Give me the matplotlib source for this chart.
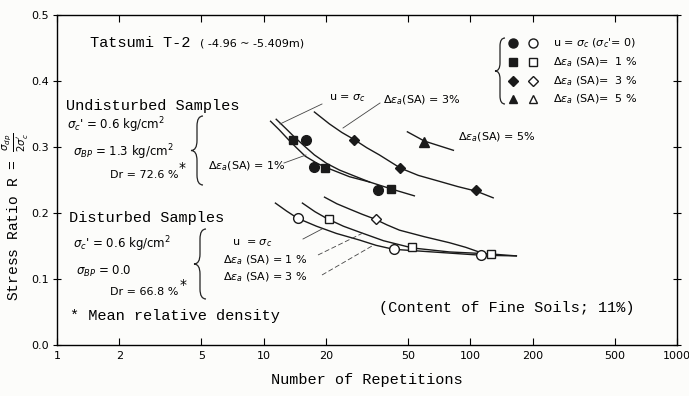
import numpy as np
import matplotlib
matplotlib.use("Agg")
import matplotlib.pyplot as plt
from matplotlib.path import Path
from matplotlib.patches import PathPatch
from matplotlib.lines import Line2D

plt.rcParams["mathtext.fontset"] = "dejavusans"

W, H = 689, 396
MONO = "Liberation Mono"

# undisturbed samples (filled markers)
und_circle_n = [16.1, 17.6, 35.9]
und_circle_r = [0.310, 0.270, 0.235]
und_square_n = [13.8, 19.9, 41.5]
und_square_r = [0.310, 0.268, 0.236]
und_diamond_n = [27.5, 45.9, 107]
und_diamond_r = [0.310, 0.268, 0.235]
und_triangle_n = [59.9]
und_triangle_r = [0.308]

# disturbed samples (open markers)
dis_circle_n = [14.6, 42.9, 113]
dis_circle_r = [0.192, 0.145, 0.136]
dis_square_n = [20.6, 52.5, 126]
dis_square_r = [0.191, 0.148, 0.138]
dis_diamond_n = [34.8]
dis_diamond_r = [0.191]

# hand-drawn curves
und_u_n = [11.5, 12.8, 14.1, 15.8, 17.6, 20.2, 23.3, 27.5, 32.5, 42.9, 53.6]
und_u_r = [0.342, 0.328, 0.315, 0.301, 0.288, 0.275, 0.265, 0.256, 0.247, 0.235, 0.226]
und_1_n = [10.8, 11.9, 13.1, 14.4, 15.9, 18.2, 20.8, 26.0, 32.5]
und_1_r = [0.339, 0.326, 0.312, 0.299, 0.286, 0.275, 0.267, 0.255, 0.247]
und_3_n = [17.6, 20.8, 23.9, 27.5, 31.5, 36.3, 45.9, 56.0, 70.8, 87.0, 107, 129]
und_3_r = [0.353, 0.335, 0.322, 0.311, 0.299, 0.288, 0.268, 0.257, 0.248, 0.240, 0.233, 0.223]
und_5_n = [49.6, 59.9, 82.8]
und_5_r = [0.323, 0.309, 0.295]
dis_u_n = [11.4, 12.9, 14.6, 18.0, 22.5, 29.1, 35.0, 42.5, 65.5, 113, 167]
dis_u_r = [0.215, 0.203, 0.192, 0.180, 0.169, 0.159, 0.151, 0.145, 0.141, 0.136, 0.135]
dis_1_n = [15.4, 17.7, 20.4, 24.3, 29.1, 38.0, 52.5, 79.2, 125, 167]
dis_1_r = [0.215, 0.202, 0.191, 0.180, 0.171, 0.158, 0.147, 0.141, 0.138, 0.135]
dis_3_n = [19.7, 22.6, 26.0, 30.0, 34.4, 39.5, 45.4, 60.0, 79.2, 95.0, 110]
dis_3_r = [0.224, 0.214, 0.206, 0.198, 0.191, 0.182, 0.174, 0.164, 0.155, 0.148, 0.141]

x_ticks = [1, 2, 5, 10, 20, 50, 100, 200, 500, 1000]
y_ticks = [0.0, 0.1, 0.2, 0.3, 0.4, 0.5]


def fx(x, y):
    return x / W, 1 - y / H


def ftext(fig, x, y, s, **kw):
    kw.setdefault("va", "center")
    kw.setdefault("ha", "left")
    fig.text(x / W, 1 - y / H, s, **kw)


def brace(fig, x, y0, y1, w=6, r=10):
    ym = (y0 + y1) / 2
    pts = [(x + w, y0), (x, y0), (x, y0 + r), (x, ym - r), (x, ym), (x - w, ym),
           (x, ym), (x, ym + r), (x, y1 - r), (x, y1), (x + w, y1)]
    codes = [Path.MOVETO, Path.CURVE3, Path.CURVE3, Path.LINETO, Path.CURVE3, Path.CURVE3,
             Path.CURVE3, Path.CURVE3, Path.LINETO, Path.CURVE3, Path.CURVE3]
    path = Path([fx(*p) for p in pts], codes)
    fig.patches.append(PathPatch(path, fc="none", ec="#222", lw=0.9,
                                 transform=fig.transFigure))


def leader(fig, p0, p1, ls="-"):
    fig.add_artist(Line2D([p0[0] / W, p1[0] / W], [1 - p0[1] / H, 1 - p1[1] / H],
                          transform=fig.transFigure, color="#444", lw=0.6, ls=ls))


fig = plt.figure(figsize=(W / 100, H / 100), dpi=100, facecolor="#fcfcfa")
ax = fig.add_axes([57 / W, 1 - 345 / H, 620 / W, 330 / H])
ax.set_facecolor("#fcfcfa")

ln = dict(color="#1a1a1a", lw=1.0)
for n, r in [(und_u_n, und_u_r), (und_1_n, und_1_r), (und_3_n, und_3_r),
             (und_5_n, und_5_r), (dis_u_n, dis_u_r), (dis_1_n, dis_1_r),
             (dis_3_n, dis_3_r)]:
    ax.plot(n, r, **ln)

mk = dict(ls="none", color="#1a1a1a", zorder=3)
ax.plot(und_circle_n, und_circle_r, marker="o", ms=7, **mk)
ax.plot(und_square_n, und_square_r, marker="s", ms=6, **mk)
ax.plot(und_diamond_n, und_diamond_r, marker="D", ms=5.5, **mk)
ax.plot(und_triangle_n, und_triangle_r, marker="^", ms=6.5, **mk)
op = dict(ls="none", mfc="white", mec="#1a1a1a", mew=1.0, zorder=3)
ax.plot(dis_circle_n, dis_circle_r, marker="o", ms=7, **op)
ax.plot(dis_square_n, dis_square_r, marker="s", ms=5.5, **op)
ax.plot(dis_diamond_n, dis_diamond_r, marker="D", ms=5.5, **op)

ax.set_xscale("log")
ax.set_xlim(1, 1000)
ax.set_ylim(0, 0.5)
ax.set_xticks(x_ticks)
ax.set_xticklabels([str(t) for t in x_ticks], fontsize=8)
ax.xaxis.set_minor_locator(matplotlib.ticker.NullLocator())
ax.set_yticks(y_ticks)
ax.set_yticklabels(["%.1f" % t for t in y_ticks], fontsize=8)
ax.tick_params(axis="x", direction="in", top=True, length=5, pad=4)
ax.tick_params(axis="y", direction="inout", right=True, length=6, pad=3)
for s in ax.spines.values():
    s.set_linewidth(1.0)

ax.set_xlabel("Number of Repetitions", family=MONO, fontsize=11, labelpad=9)
ax.set_ylabel(r"Stress Ratio R = $\frac{\sigma_{dp}}{2\sigma_c'}$", family=MONO,
              fontsize=10.5)
ax.yaxis.set_label_coords(-0.042, 0.39)

# titles and annotations
ftext(fig, 90, 43, "Tatsumi T-2", family=MONO, fontsize=11)
ftext(fig, 200, 43, "( -4.96 ~ -5.409m)", fontsize=8)

ftext(fig, 66, 106, "Undisturbed Samples", family=MONO, fontsize=11)
ftext(fig, 67, 125, r"$\sigma_c$' = 0.6 kg/cm$^2$", fontsize=8.5)
ftext(fig, 73, 152, r"$\sigma_{BP}$ = 1.3 kg/cm$^2$", fontsize=8.5)
ftext(fig, 110, 175, "Dr = 72.6 %", fontsize=8)
ftext(fig, 179, 168, "*", fontsize=10)
brace(fig, 197, 116, 185)

ftext(fig, 69, 218, "Disturbed Samples", family=MONO, fontsize=11)
ftext(fig, 73, 244, r"$\sigma_c$' = 0.6 kg/cm$^2$", fontsize=8.5)
ftext(fig, 76, 271, r"$\sigma_{BP}$ = 0.0", fontsize=8.5)
ftext(fig, 110, 292, "Dr = 66.8 %", fontsize=8)
ftext(fig, 180, 285, "*", fontsize=10)
brace(fig, 200, 229, 299)
ftext(fig, 70, 316, "* Mean relative density", family=MONO, fontsize=11)

ftext(fig, 232, 243, r"u  = $\sigma_c$", fontsize=8)
ftext(fig, 223, 260, r"$\Delta\epsilon_a$ (SA) = 1 %", fontsize=8)
ftext(fig, 223, 277, r"$\Delta\epsilon_a$ (SA) = 3 %", fontsize=8)
leader(fig, (303, 239), (322, 229))
leader(fig, (318, 255), (365, 232), ls=(0, (6, 3)))
leader(fig, (322, 275), (372, 246), ls=(0, (6, 3)))

ftext(fig, 208, 166, r"$\Delta\epsilon_a$(SA) = 1%", fontsize=8)
leader(fig, (284, 163), (306, 155))
ftext(fig, 329, 98, r"u = $\sigma_c$", fontsize=8)
leader(fig, (322, 104), (280, 124))
ftext(fig, 383, 100, r"$\Delta\epsilon_a$(SA) = 3%", fontsize=8)
leader(fig, (380, 103), (343, 128))
ftext(fig, 458, 137, r"$\Delta\epsilon_a$(SA) = 5%", fontsize=8)

ftext(fig, 379, 308, "(Content of Fine Soils; 11%)", family=MONO, fontsize=11)

# legend box at upper right
brace(fig, 500, 38, 104, w=5, r=8)
rows = [(43, "o", r"u = $\sigma_c$ ($\sigma_c$'= 0)"),
        (62, "s", r"$\Delta\epsilon_a$ (SA)=  1 %"),
        (81, "D", r"$\Delta\epsilon_a$ (SA)=  3 %"),
        (99, "^", r"$\Delta\epsilon_a$ (SA)=  5 %")]
for y, m, s in rows:
    ms = 6.5 if m == "o" else 5.5
    fig.add_artist(Line2D([513 / W], [1 - y / H], marker=m, ms=ms, color="#1a1a1a",
                          ls="none", transform=fig.transFigure))
    fig.add_artist(Line2D([533 / W], [1 - y / H], marker=m, ms=ms, mfc="white",
                          mec="#1a1a1a", mew=1.0, ls="none", transform=fig.transFigure))
    ftext(fig, 553, y, s, fontsize=8)

fig.savefig("out.png", dpi=100, facecolor=fig.get_facecolor())
